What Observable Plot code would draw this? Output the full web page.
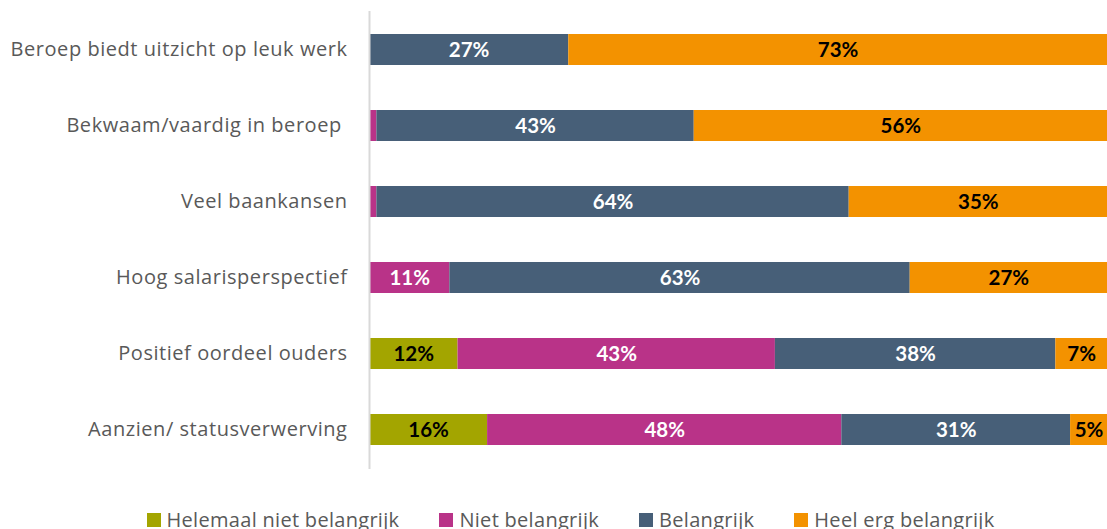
<!DOCTYPE html>
<html>
<head>
<meta charset="utf-8">
<script src="https://cdn.jsdelivr.net/npm/d3@7"></script>
<script src="https://cdn.jsdelivr.net/npm/@observablehq/plot@0.6"></script>
<style>
  html, body { margin: 0; padding: 0; background: #fff; }
  body { width: 1107px; height: 529px; overflow: hidden; font-family: "Open Sans", Lato, sans-serif; }
  #legend { display: flex; justify-content: center; align-items: center; gap: 40px; margin-top: 26px; padding-left: 34px; font-size: 20px; letter-spacing: 0.3px; color: #595959; }
  #legend .item { display: flex; align-items: center; }
  #legend .sw { width: 14px; height: 14px; margin-right: 6px; }
  #chart svg g[aria-label="y-axis tick label"] text { letter-spacing: 0.55px; }
</style>
</head>
<body>
<div id="chart"></div>
<div id="legend"></div>
<script>
const categories = [
  "Beroep biedt uitzicht op leuk werk",
  "Bekwaam/vaardig in beroep ",
  "Veel baankansen",
  "Hoog salarisperspectief",
  "Positief oordeel ouders",
  "Aanzien/ statusverwerving"
];
const seriesNames = ["Helemaal niet belangrijk", "Niet belangrijk", "Belangrijk", "Heel erg belangrijk"];
const helemaalNiet = [0, 0, 0, 0, 12, 16];
const nietBelangrijk = [0, 1, 1, 11, 43, 48];
const belangrijk = [27, 43, 64, 63, 38, 31];
const heelErg = [73, 56, 35, 27, 7, 5];
const seriesColors = ["#a3a500", "#b93388", "#475f78", "#f39200"];
const labelColors = ["#000000", "#ffffff", "#ffffff", "#000000"];

const seriesValues = [helemaalNiet, nietBelangrijk, belangrijk, heelErg];
const data = [];
categories.forEach((c, i) => {
  seriesNames.forEach((s, j) => {
    data.push({category: c, series: s, value: seriesValues[j][i], labelColor: labelColors[j]});
  });
});

const chart = Plot.plot({
  width: 1107,
  height: 480,
  marginLeft: 369,
  marginRight: 0,
  marginTop: 11,
  marginBottom: 11,
  style: {fontFamily: "'Open Sans', Lato, sans-serif"},
  x: {axis: null, domain: [0, 1]},
  y: {domain: categories, paddingInner: 0.59, paddingOuter: 0.295, label: null, tickSize: 0, tickPadding: 22},
  color: {domain: seriesNames, range: seriesColors},
  marks: [
    Plot.barX(data, Plot.stackX({x: "value", y: "category", fill: "series", order: seriesNames, offset: "normalize"})),
    Plot.text(data, Plot.stackX({
      x: "value", y: "category", z: "series", order: seriesNames, offset: "normalize",
      text: d => d.value >= 5 ? d.value + "%" : "",
      fill: "labelColor", fontWeight: "bold", fontSize: 20.5, fontFamily: "Lato, sans-serif"
    })),
    Plot.ruleX([0], {stroke: "#d9d9d9", strokeWidth: 2}),
    Plot.axisY({tickSize: 0, tickPadding: 22, fontSize: 20, fill: "#595959", label: null})
  ]
});
document.getElementById("chart").appendChild(chart);

const legend = document.getElementById("legend");
seriesNames.forEach((s, j) => {
  const item = document.createElement("div");
  item.className = "item";
  const sw = document.createElement("span");
  sw.className = "sw";
  sw.style.background = seriesColors[j];
  const t = document.createElement("span");
  t.textContent = s;
  item.appendChild(sw);
  item.appendChild(t);
  legend.appendChild(item);
});
</script>
</body>
</html>
